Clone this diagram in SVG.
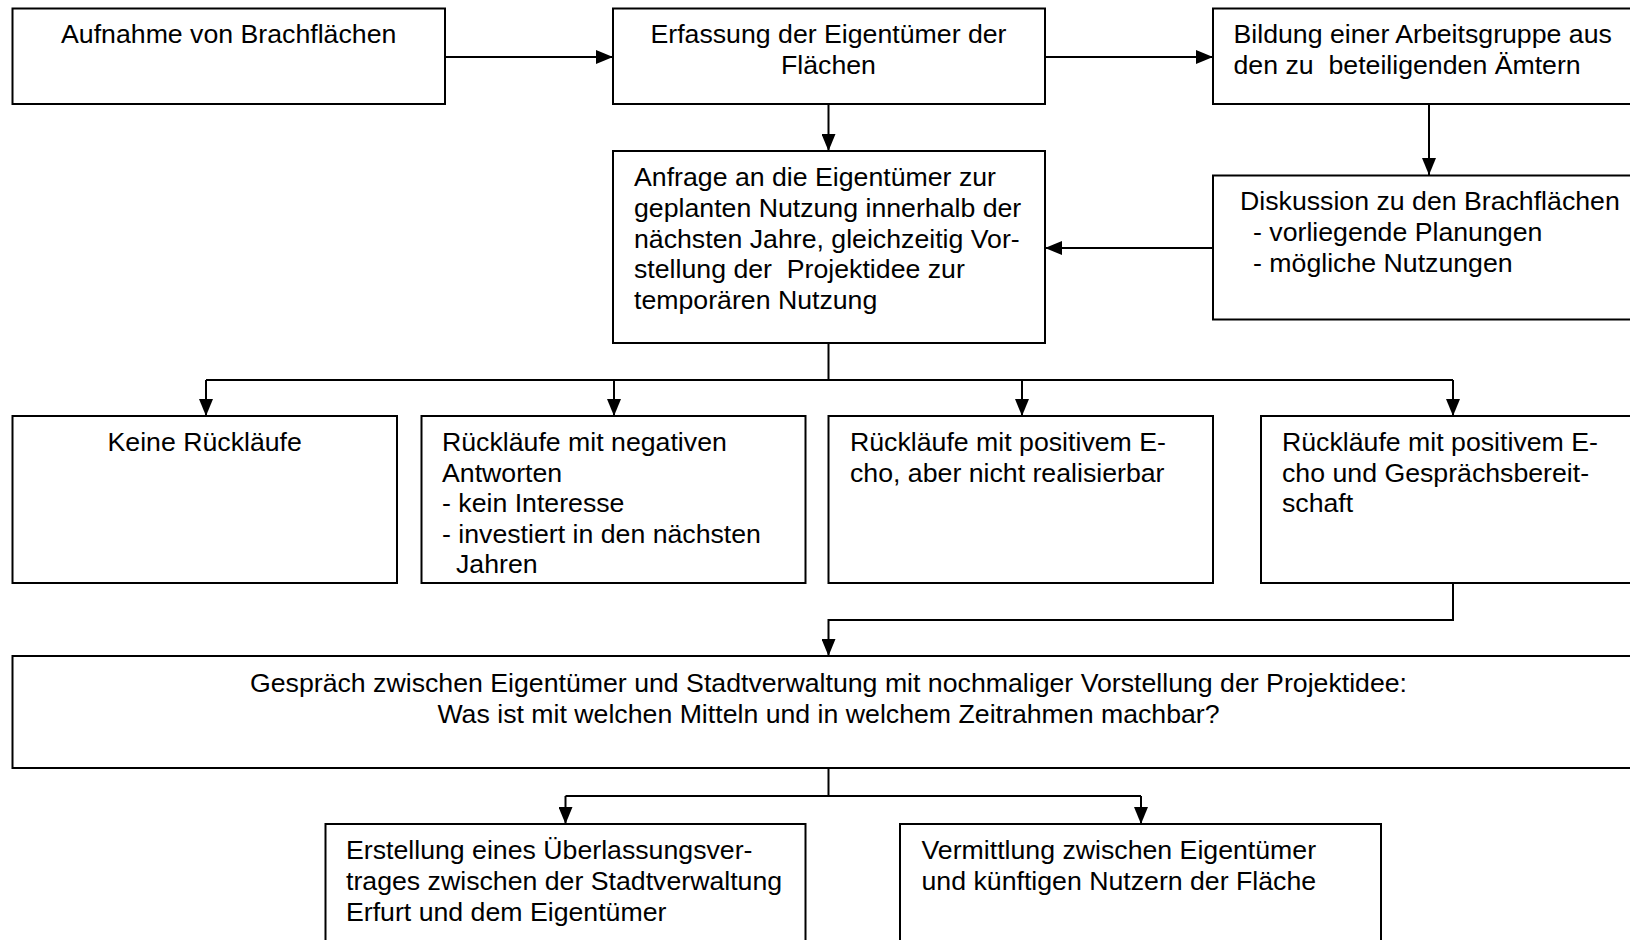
<svg xmlns="http://www.w3.org/2000/svg" width="1630" height="940" viewBox="0 0 1630 940">
<style>
.box{fill:#fff;stroke:#000;stroke-width:2}
.t{font-family:"Liberation Sans",Arial,sans-serif;font-size:26.7px;fill:#000}
.c{text-anchor:middle}
.ln{fill:none;stroke:#000;stroke-width:2}
</style>
<defs>
<marker id="ah" markerWidth="17" markerHeight="14" refX="17" refY="7" orient="auto" markerUnits="userSpaceOnUse">
<path d="M0,0 L17,7 L0,14 Z" fill="#000"/>
</marker>
</defs>
<rect width="1630" height="940" fill="#fff"/>
<g id="connectors">
<path class="ln" d="M445,57 H613" marker-end="url(#ah)"/>
<path class="ln" d="M1045,57 H1213" marker-end="url(#ah)"/>
<path class="ln" d="M828.5,104 V151" marker-end="url(#ah)"/>
<path class="ln" d="M1429,104 V175" marker-end="url(#ah)"/>
<path class="ln" d="M1213,248 H1045" marker-end="url(#ah)"/>
<path class="ln" d="M828.5,343 V380"/>
<path class="ln" d="M206,380 H1453"/>
<path class="ln" d="M206,380 V416" marker-end="url(#ah)"/>
<path class="ln" d="M614,380 V416" marker-end="url(#ah)"/>
<path class="ln" d="M1022,380 V416" marker-end="url(#ah)"/>
<path class="ln" d="M1453,380 V416" marker-end="url(#ah)"/>
<path class="ln" d="M1453,583 V620 H828.5 V656" marker-end="url(#ah)"/>
<path class="ln" d="M828.5,768 V796"/>
<path class="ln" d="M565.5,796 H1141"/>
<path class="ln" d="M565.5,796 V824" marker-end="url(#ah)"/>
<path class="ln" d="M1141,796 V824" marker-end="url(#ah)"/>
</g>
<g id="n1"><rect class="box" x="12.5" y="8.5" width="432.5" height="95.5"/>
<text class="t c" x="228.7" y="43">Aufnahme von Brachflächen</text></g>
<g id="n2"><rect class="box" x="613" y="8.5" width="432" height="95.5"/>
<text class="t c" x="828.5" y="43">Erfassung der Eigentümer der</text>
<text class="t c" x="828.5" y="73.5">Flächen</text></g>
<g id="n3"><rect class="box" x="1213" y="8.5" width="430" height="95.5"/>
<text class="t" x="1233.5" y="43">Bildung einer Arbeitsgruppe aus</text>
<text class="t" x="1233.5" y="73.5" xml:space="preserve">den zu  beteiligenden Ämtern</text></g>
<g id="n4"><rect class="box" x="613" y="151" width="432" height="192"/>
<text class="t" x="634" y="186">Anfrage an die Eigentümer zur</text>
<text class="t" x="634" y="216.5">geplanten Nutzung innerhalb der</text>
<text class="t" x="634" y="247.5">nächsten Jahre, gleichzeitig Vor-</text>
<text class="t" x="634" y="278" xml:space="preserve">stellung der  Projektidee zur</text>
<text class="t" x="634" y="309">temporären Nutzung</text></g>
<g id="n5"><rect class="box" x="1213" y="175.5" width="430" height="144"/>
<text class="t" x="1240" y="210">Diskussion zu den Brachflächen</text>
<text class="t" x="1253" y="241">- vorliegende Planungen</text>
<text class="t" x="1253" y="272">- mögliche Nutzungen</text></g>
<g id="n6"><rect class="box" x="12.5" y="416" width="384.5" height="167"/>
<text class="t c" x="204.7" y="451">Keine Rückläufe</text></g>
<g id="n7"><rect class="box" x="421.5" y="416" width="384" height="167"/>
<text class="t" x="442" y="451">Rückläufe mit negativen</text>
<text class="t" x="442" y="481.5">Antworten</text>
<text class="t" x="442" y="512">- kein Interesse</text>
<text class="t" x="442" y="542.5">- investiert in den nächsten</text>
<text class="t" x="456" y="573">Jahren</text></g>
<g id="n8"><rect class="box" x="828.5" y="416" width="384.5" height="167"/>
<text class="t" x="850" y="451">Rückläufe mit positivem E-</text>
<text class="t" x="850" y="481.5">cho, aber nicht realisierbar</text></g>
<g id="n9"><rect class="box" x="1261" y="416" width="382" height="167"/>
<text class="t" x="1282" y="451">Rückläufe mit positivem E-</text>
<text class="t" x="1282" y="481.5">cho und Gesprächsbereit-</text>
<text class="t" x="1282" y="512">schaft</text></g>
<g id="n10"><rect class="box" x="12.5" y="656" width="1630" height="112"/>
<text class="t c" x="828.5" y="692">Gespräch zwischen Eigentümer und Stadtverwaltung mit nochmaliger Vorstellung der Projektidee:</text>
<text class="t c" x="828.5" y="723">Was ist mit welchen Mitteln und in welchem Zeitrahmen machbar?</text></g>
<g id="n11"><rect class="box" x="325.5" y="824" width="480" height="130"/>
<text class="t" x="346" y="859">Erstellung eines Überlassungsver-</text>
<text class="t" x="346" y="890">trages zwischen der Stadtverwaltung</text>
<text class="t" x="346" y="920.5">Erfurt und dem Eigentümer</text></g>
<g id="n12"><rect class="box" x="900" y="824" width="481" height="130"/>
<text class="t" x="921.5" y="859">Vermittlung zwischen Eigentümer</text>
<text class="t" x="921.5" y="890">und künftigen Nutzern der Fläche</text></g>
</svg>
